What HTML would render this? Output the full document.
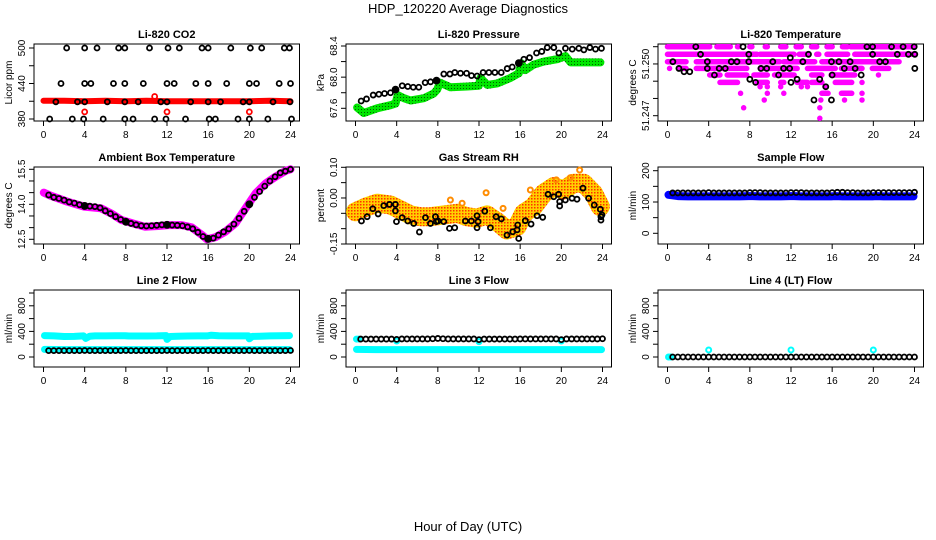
<!DOCTYPE html>
<html><head><meta charset="utf-8"><title>HDP_120220 Average Diagnostics</title>
<style>
html,body{margin:0;padding:0;background:#fff;}
svg{display:block;font-family:"Liberation Sans",sans-serif;}
</style></head>
<body>
<svg id="chart" width="936" height="540" viewBox="0 0 936 540" xmlns="http://www.w3.org/2000/svg">
<defs>
<pattern id="rhpat" patternUnits="userSpaceOnUse" width="3" height="3">
<rect width="3" height="3" fill="#ffd000"/><rect x="0" y="0" width="1.5" height="1.5" fill="#ff3000"/>
</pattern>
<pattern id="grpat" patternUnits="userSpaceOnUse" width="3" height="3">
<rect width="3" height="3" fill="#00e600"/><rect x="1" y="1" width="1" height="1" fill="#006000"/>
</pattern>
</defs>
<text x="468" y="13" text-anchor="middle" font-size="13">HDP_120220  Average Diagnostics</text>
<text x="468" y="531" text-anchor="middle" font-size="13">Hour of Day (UTC)</text>
</svg>
<script>
// ---------- data ----------
const xTicks = [0,4,8,12,16,20,24];
const halfHours = [0.5,1,1.5,2,2.5,3,3.5,4,4.5,5,5.5,6,6.5,7,7.5,8,8.5,9,9.5,10,10.5,11,11.5,12,12.5,13,13.5,14,14.5,15,15.5,16,16.5,17,17.5,18,18.5,19,19.5,20,20.5,21,21.5,22,22.5,23,23.5,24];

// Li-820 CO2
const co2BlackHours = [2.25,4.0,5.2,7.3,7.9,10.3,12.1,13.2,15.4,16.0,18.2,20.1,21.2,23.4,23.9,
 1.7,4.0,4.6,6.8,7.9,9.7,12.0,12.7,14.8,16.0,17.8,20.0,20.7,22.9,24.0,
 1.2,3.3,4.0,6.2,7.9,9.2,11.4,12.0,14.3,16.0,17.2,19.4,20.0,22.3,23.95,
 0.6,2.8,3.9,5.8,7.9,8.7,10.8,11.9,13.8,16.1,16.7,18.9,20.0,21.8,24.1];
const co2BlackVals = [500,500,500,500,500,500,500,500,500,500,500,500,500,500,500,
 440,440,440,440,440,440,440,440,440,440,440,440,440,440,440,
 409,409,409,409,409,409,409,409,409,409,409,409,409,409,409,
 380,380,380,380,380,380,380,380,380,380,380,380,380,380,380];
const co2RedHours = [0,2,4,6,8,10,12,14,16,18,20,22,24];
const co2RedVals = [411,411,410,411,410,411,410,410,410,410,410,411,410];
const co2RedPtHours = [4.0,12.0,20.0,10.8];
const co2RedPtVals = [392,392,392,418];

// Li-820 Pressure
const presBlackHours = [0.55,1.07,1.72,2.27,2.82,3.4,3.89,4.54,5.08,5.61,6.15,6.77,7.29,7.87,8.58,9.17,9.65,10.2,10.79,11.27,11.82,12.4,12.96,13.54,14.16,14.74,15.23,15.87,16.36,16.91,17.59,18.1,18.63,19.27,19.76,20.4,21.06,21.7,22.19,22.77,23.32,23.9];
const presBlackVals = [67.694,67.72,67.77,67.78,67.79,67.80,67.84,67.89,67.88,67.87,67.87,67.93,67.94,67.955,68.04,68.04,68.06,68.05,68.05,68.02,68.015,68.06,68.06,68.06,68.06,68.11,68.13,68.18,68.23,68.25,68.31,68.33,68.38,68.38,68.31,68.37,68.36,68.37,68.35,68.38,68.36,68.37];
const presGreenHours = [0.16,0.81,2.1,3.4,3.89,4.1,4.7,5.35,6.65,7.6,7.94,8.2,9.23,10.85,11.98,12.15,12.8,13.77,15.06,15.87,16.1,16.5,17.3,18.3,19.6,20.4,20.9,23.8];
const presGreenVals = [67.61,67.54,67.60,67.64,67.66,67.77,67.73,67.70,67.73,67.79,67.84,67.93,67.87,67.88,67.89,67.99,67.90,67.92,67.99,68.05,68.18,68.09,68.16,68.20,68.23,68.27,68.19,68.19];

// Li-820 Temperature (magenta levels drawn as runs [start,end] in hours)
const tempLevels = [51.2510,51.25056,51.25013,51.24974,51.24936,51.24893,51.24868,51.2483,51.24791,51.24746,51.24685];
const tempRuns = [
 [[0,4.1],[4.8,6.1],[6.8,6.9],[8,8.2],[9.5,9.7],[11,11.5],[12.5,13],[14,14.5],[15.5,16],[17,17.5],[17.8,24]],
 [[0,8.7],[9,12.3],[12.8,13.6],[14.5,14.7],[15.5,17.5],[18.2,24]],
 [[0,1.8],[2.8,10.9],[11.3,14.3],[15,22.5]],
 [[0.2,0.2],[1.2,1.8],[2.8,4.8],[5.1,7.7],[9,12.6],[13.6,16.3],[16.9,18.9],[19.9,21.5]],
 [[4.1,5.1],[5.8,7.7],[8.4,9.7],[10.4,12.3],[14,15],[15.9,18.2],[20.5,20.5]],
 [[5.1,6.8],[8.7,9.7],[11,11.3],[12.6,13.6],[14,15],[16.3,17.9],[18.9,18.9]],
 [[9,9],[9.7,9.7],[11,11],[13,13],[13.6,13.6],[15.3,15.3]],
 [[7.1,7.1],[9.7,9.7],[11.3,11.3],[15,15.6],[16.9,17.9],[18.9,18.9]],
 [[9.4,9.4],[14.9,14.9],[17.2,17.2],[18.9,18.9]],
 [[7.4,7.4],[14.8,14.8]],
 [[14.8,14.8]]
];
const tempBlackHours = [0.52,1.11,1.61,2.16,2.75,3.21,3.87,3.87,4.56,5.02,5.61,6.2,6.75,7.34,7.9,7.9,8.0,8.56,9.08,9.64,10.23,10.79,11.28,11.87,11.93,12.0,12.59,13.15,13.7,14.23,14.79,15.38,15.93,15.93,16.0,16.66,17.18,17.74,18.23,18.82,19.38,19.93,19.93,20.62,21.18,21.77,22.33,22.89,23.41,23.97,24.03,24.03];
const tempBlackVals = [51.25013,51.24974,51.24955,51.24955,51.2510,51.25056,51.25013,51.24974,51.24936,51.24974,51.24974,51.25013,51.25013,51.2510,51.25056,51.25013,51.24911,51.24893,51.24974,51.24974,51.25013,51.24936,51.24974,51.24974,51.25036,51.24893,51.24911,51.25013,51.25056,51.24791,51.24911,51.24868,51.25013,51.24791,51.24936,51.25013,51.24974,51.25013,51.24974,51.24936,51.2510,51.2510,51.25056,51.25013,51.25013,51.2510,51.25056,51.2510,51.25056,51.2510,51.25056,51.24974];

// Ambient Box Temperature
const ambBandHours = [0.03,0.69,2.32,3.95,5.59,6.57,7.55,8.86,9.84,11.14,12.12,13.43,14.41,15.39,15.88,16.7,17.68,18.66,19.64,20.62,21.6,22.58,23.56,24.0];
const ambBandVals = [14.5,14.37,14.11,13.9,13.83,13.61,13.33,13.16,13.04,13.07,13.11,13.11,13.01,12.69,12.5,12.59,12.83,13.19,13.83,14.47,14.9,15.19,15.44,15.5];
const ambBlackVals = [14.4,14.3,14.25,14.18,14.1,14.05,13.98,13.93,13.92,13.9,13.85,13.72,13.6,13.47,13.35,13.25,13.18,13.12,13.08,13.07,13.08,13.1,13.12,13.12,13.11,13.1,13.08,13.03,12.95,12.8,12.62,12.52,12.55,12.68,12.82,12.95,13.15,13.4,13.7,14.0,14.3,14.55,14.78,15.0,15.18,15.35,15.42,15.5];

// Gas Stream RH
const rhBandHours = [0,1.13,2.1,3.4,4.37,5.34,6.31,7.28,8.58,9.87,10.84,11.81,12.78,13.75,14.72,15.7,16.34,17.31,18.28,19.26,20.23,21.2,22.17,23.14,23.79];
const rhBandVals = [-0.045,-0.028,-0.017,-0.023,-0.039,-0.055,-0.061,-0.061,-0.055,-0.05,-0.061,-0.066,-0.055,-0.077,-0.104,-0.093,-0.05,-0.028,0.015,0.037,0.026,0.048,0.048,0.015,-0.028];
const rhOutHours = [9.22,10.36,12.69,14.34,16.99,19.51,20.87,21.78];
const rhOutVals = [-0.0065,-0.017,0.017,-0.034,0.026,0.059,0.066,0.091];
const rhBlackHours = [0.58,1.13,1.68,2.2,2.75,3.3,3.88,3.88,3.98,4.53,5.08,5.66,6.21,6.8,7.28,7.77,7.86,8.03,8.58,9.13,9.64,10.68,11.26,11.81,11.81,11.91,12.56,13.11,13.66,14.17,14.72,15.28,15.7,15.76,15.86,16.5,17.06,17.64,18.19,18.71,19.26,19.74,19.84,19.84,20.39,21.04,21.52,22.1,22.65,23.2,23.79,23.85,23.95,23.85];
const rhBlackVals = [-0.075,-0.061,-0.035,-0.052,-0.025,-0.021,-0.021,-0.042,-0.077,-0.064,-0.075,-0.083,-0.111,-0.064,-0.083,-0.061,-0.077,-0.075,-0.077,-0.099,-0.097,-0.075,-0.075,-0.058,-0.097,-0.077,-0.043,-0.097,-0.061,-0.068,-0.121,-0.11,-0.104,-0.088,-0.132,-0.074,-0.085,-0.058,-0.063,0.012,0.004,0.012,-0.012,-0.026,-0.0065,-0.001,-0.004,0.032,-0.001,-0.023,-0.037,-0.061,-0.055,-0.072];

// Sample Flow
const sfBlueHours = [0.1,1,2,3,3.9,4.3,5,6,7,7.9,8.3,9,10,11,11.9,12.3,13,14,15,15.9,16.3,17,18,19,19.9,20.3,21,22,23,23.9];
const sfBlueVals = [123,119,118,118,118,118,118,118,118,119,119,118,118,118,119,119,118,118,118,118,119,118,118,118,118,119,118,118,118,118];
const sfBlackVals = [129,129,129,129,129,129,129,130,129,129,129,129,129,129,129,130,130,130,129,129,129,129,129,130,130,130,129,129,129,129,129,130,131,131,130,130,129,129,129,130,130,130,130,130,130,130,130,131];

// Line 2 Flow
const l2HiHours = [0.1,1,2,3,3.9,4.1,4.5,5,6,7,7.9,8.3,9,10,11,11.9,12.0,12.3,13,14,15,15.9,16.3,17,18,19,19.9,20.0,20.3,21,22,23,23.9];
const l2HiVals = [335,330,320,322,330,290,325,330,330,332,333,328,328,328,330,335,275,320,325,328,330,330,340,332,330,330,330,285,322,325,330,332,335];
const l2LoHours = [0.1,2,4,6,8,10,12,14,16,18,20,22,23.9];
const l2LoVals = [118,115,115,115,115,115,115,115,115,115,115,115,115];
const l2BlackVals = [100,100,100,100,100,100,100,102,100,100,100,100,100,100,100,102,100,100,100,100,100,100,100,102,100,100,100,100,100,100,100,102,100,100,100,100,100,100,100,102,100,100,100,100,100,100,100,102];

// Line 3 Flow
const l3LoHours = [0.1,2,4,6,8,10,12,14,16,18,20,22,23.9];
const l3LoVals = [118,115,115,115,115,115,115,115,115,115,115,115,115];
const l3CyanPtHours = [0.1,0.3,4.0,12.0,20.0];
const l3CyanPtVals = [280,280,250,240,250];
const l3BlackVals = [280,280,280,280,280,280,280,275,282,282,282,282,282,282,285,290,285,282,282,282,282,282,282,272,280,280,280,280,280,280,280,282,282,282,282,282,282,282,282,272,282,282,282,282,282,282,282,285];

// Line 4 (LT) Flow
const l4CyanPtHours = [0.1,0.3,4.0,12.0,20.0];
const l4CyanPtVals = [0,0,110,110,110];
const l4BlackVals = [0,0,0,0,0,0,0,0,0,0,0,0,0,0,0,0,0,0,0,0,0,0,0,0,0,0,0,0,0,0,0,0,0,0,0,0,0,0,0,0,0,0,0,0,0,0,0,0];

// ---------- layout ----------
const svg = document.getElementById('chart');
const NS = 'http://www.w3.org/2000/svg';
const colX0 = [43.5, 355.5, 667.5];
const rowTop = [44, 167, 290];
const rowBot = [121, 244, 367];
const SPAN = 247;

const panels = [
 {c:0,r:0,title:'Li-820 CO2',ylab:'Licor ppm',v0:380,p0:119,v1:500,p1:48,ticks:[380,410,440,470,500],labels:['380','','440','','500'],slug:'co2'},
 {c:1,r:0,title:'Li-820 Pressure',ylab:'kPa',v0:67.6,p0:108.3,v1:68.4,p1:46,ticks:[67.6,67.8,68.0,68.2,68.4],labels:['67.6','','68.0','','68.4'],slug:'pressure'},
 {c:2,r:0,title:'Li-820 Temperature',ylab:'degrees C',v0:51.247,p0:115.7,v1:51.251,p1:46.7,ticks:[51.247,51.248,51.249,51.250,51.251],labels:['51.247','','','51.250',''],slug:'li820-temp'},
 {c:0,r:1,title:'Ambient Box Temperature',ylab:'degrees C',v0:12.5,p0:239.3,v1:15.5,p1:169.3,ticks:[12.5,13,13.5,14,14.5,15,15.5],labels:['12.5','','','14.0','','','15.5'],slug:'ambient'},
 {c:1,r:1,title:'Gas Stream RH',ylab:'percent',v0:-0.15,p0:244,v1:0.10,p1:167.3,ticks:[-0.15,-0.10,-0.05,0,0.05,0.10],labels:['-0.15','','','0.00','','0.10'],slug:'rh'},
 {c:2,r:1,title:'Sample Flow',ylab:'ml/min',v0:0,p0:233.3,v1:200,p1:170.7,ticks:[0,50,100,150,200],labels:['0','','100','','200'],slug:'sample-flow'},
 {c:0,r:2,title:'Line 2 Flow',ylab:'ml/min',v0:0,p0:357,v1:1000,p1:293,ticks:[0,200,400,600,800,1000],labels:['0','','400','','800',''],slug:'line2'},
 {c:1,r:2,title:'Line 3 Flow',ylab:'ml/min',v0:0,p0:357,v1:1000,p1:293,ticks:[0,200,400,600,800,1000],labels:['0','','400','','800',''],slug:'line3'},
 {c:2,r:2,title:'Line 4 (LT) Flow',ylab:'ml/min',v0:0,p0:357,v1:1000,p1:293,ticks:[0,200,400,600,800,1000],labels:['0','','400','','800',''],slug:'line4'}
];

function xs(p, h){ return colX0[p.c] + h/24*SPAN; }
function ys(p, v){ return p.p0 + (v - p.v0)/(p.v1 - p.v0)*(p.p1 - p.p0); }

function mk(tag, attrs, parent){
  const el = document.createElementNS(NS, tag);
  for (const k in attrs) el.setAttribute(k, attrs[k]);
  (parent || svg).appendChild(el);
  return el;
}

function drawFrame(p){
  const g = mk('g', {});
  
  
  const left = colX0[p.c] - 9.5, right = colX0[p.c] + SPAN + 9, top = rowTop[p.r], bot = rowBot[p.r];
  const box = mk('rect', {x:left, y:top, width:right-left, height:bot-top, fill:'none', stroke:'#000', 'stroke-width':1}, g);
  
  
  const t = mk('text', {x:(left+right)/2, y:top-6, 'text-anchor':'middle', 'font-size':11, 'font-weight':'bold'}, g);
  t.textContent = p.title;
  
  
  xTicks.forEach(function(v){
    const x = xs(p, v);
    const tk = mk('line', {x1:x, x2:x, y1:bot, y2:bot+5, stroke:'#000'}, g);
    
    
    const tl = mk('text', {x:x, y:bot+17, 'text-anchor':'middle', 'font-size':10}, g);
    tl.textContent = String(v);
    
    
  });
  p.ticks.forEach(function(v, i){
    const y = ys(p, v);
    const tk = mk('line', {x1:left-5, x2:left, y1:y, y2:y, stroke:'#000'}, g);
    
    
    if (p.labels[i]){
      const tl = mk('text', {x:0, y:0, 'text-anchor':'middle', 'font-size':10, transform:'translate(' + (left-9) + ',' + y + ') rotate(-90)'}, g);
      tl.textContent = p.labels[i];
      
      
    }
  });
  const yl = mk('text', {x:0, y:0, 'text-anchor':'middle', 'font-size':10, transform:'translate(' + (left-22) + ',' + ((top+bot)/2) + ') rotate(-90)'}, g);
  yl.textContent = p.ylab;
  
  
  return g;
}

function band(p, g, hours, vals, stroke, width, name, gap){
  let segs = [], cur = [];
  for (let i = 0; i < hours.length; i++){
    if (i > 0 && hours[i] - hours[i-1] > gap){ segs.push(cur); cur = []; }
    cur.push(xs(p, hours[i]).toFixed(1) + ',' + ys(p, vals[i]).toFixed(1));
  }
  segs.push(cur);
  segs.forEach(function(s){
    const pl = mk('polyline', {points:s.join(' '), fill:'none', stroke:stroke, 'stroke-width':width, 'stroke-linecap':'round', 'stroke-linejoin':'round'}, g);
    
    
  });
}

function points(p, g, hours, vals, color, name, sw, fillNear4){
  for (let i = 0; i < hours.length; i++){
    const h = hours[i];
    const near4 = h > 1 && h < 23 && Math.abs(h - Math.round(h/4)*4) < 0.15;
    const filled = !!fillNear4 && near4;
    const c = mk('circle', {cx:xs(p, h), cy:ys(p, vals[i]), r:filled ? 3 : 2.5, fill:filled ? color : 'none', stroke:color, 'stroke-width':sw || 1.8}, g);
    
    
  }
}

const G = panels.map(drawFrame);
const P = panels;

// CO2
band(P[0], G[0], co2RedHours, co2RedVals, '#ff0000', 6, 'co2-raw-band', 5);
points(P[0], G[0], co2RedPtHours, co2RedPtVals, '#ff0000', 'co2-raw-point');
points(P[0], G[0], co2BlackHours, co2BlackVals, '#000', 'co2-average-point');

// Pressure
band(P[1], G[1], presGreenHours, presGreenVals, 'url(#grpat)', 8, 'pressure-raw-band', 5);
points(P[1], G[1], presBlackHours, presBlackVals, '#000', 'pressure-average-point', 1.8, true);

// Li-820 temperature
tempLevels.forEach(function(lv, i){
  tempRuns[i].forEach(function(run){
    const x1 = xs(P[2], run[0]), x2 = xs(P[2], run[1]), y = ys(P[2], lv);
    const ln = mk('line', {x1:x1, x2:x2, y1:y, y2:y, stroke:'#ff00ff', 'stroke-width':5.5, 'stroke-linecap':'round'}, G[2]);
    
    
  });
});
points(P[2], G[2], tempBlackHours, tempBlackVals, '#000', 'temperature-average-point');

// Ambient
band(P[3], G[3], ambBandHours, ambBandVals, '#ff00ff', 8, 'ambient-raw-band', 5);
points(P[3], G[3], halfHours, ambBlackVals, '#000', 'ambient-average-point', 1.8, true);

// RH
band(P[4], G[4], rhBandHours, rhBandVals, 'url(#rhpat)', 19, 'rh-raw-band', 5);
points(P[4], G[4], rhOutHours, rhOutVals, '#ff8c00', 'rh-raw-point', 2);
points(P[4], G[4], rhBlackHours, rhBlackVals, '#000', 'rh-average-point');

// Sample flow
band(P[5], G[5], sfBlueHours, sfBlueVals, '#0000ff', 8, 'sample-flow-raw-band', 1.2);
points(P[5], G[5], halfHours, sfBlackVals, '#000', 'sample-flow-average-point');

// Line 2
band(P[6], G[6], l2HiHours, l2HiVals, '#00ffff', 7, 'line2-raw-band-high', 1.2);
band(P[6], G[6], l2LoHours, l2LoVals, '#00ffff', 7, 'line2-raw-band-low', 5);
points(P[6], G[6], halfHours, l2BlackVals, '#000', 'line2-average-point');

// Line 3
band(P[7], G[7], l3LoHours, l3LoVals, '#00ffff', 7, 'line3-raw-band', 5);
points(P[7], G[7], l3CyanPtHours, l3CyanPtVals, '#00ffff', 'line3-raw-point', 2);
points(P[7], G[7], halfHours, l3BlackVals, '#000', 'line3-average-point');

// Line 4
points(P[8], G[8], l4CyanPtHours, l4CyanPtVals, '#00ffff', 'line4-raw-point', 2);
points(P[8], G[8], halfHours, l4BlackVals, '#000', 'line4-average-point');
</script>
</body></html>
